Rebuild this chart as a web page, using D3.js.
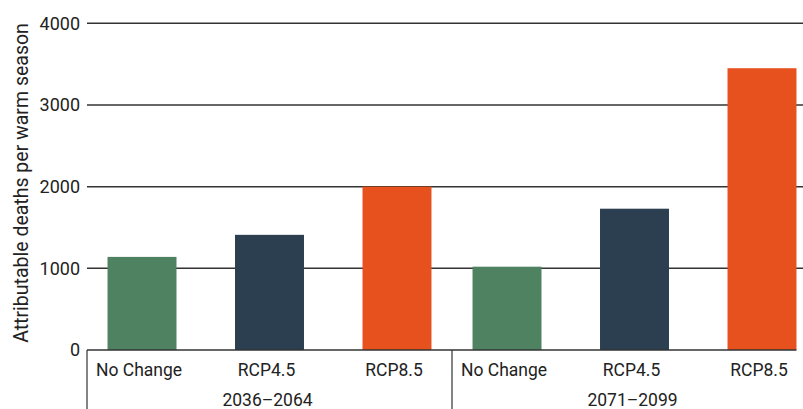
<!DOCTYPE html>
<html><head><meta charset="utf-8">
<script src="https://cdn.jsdelivr.net/npm/d3@7"></script>
<style>
html,body{margin:0;padding:0;background:#fff;}
svg{display:block;font-family:Roboto,"Noto Sans",sans-serif;}
</style></head>
<body><svg id="chart" width="803" height="409"></svg>
<script>
const periods = ["2036–2064", "2071–2099"];
const scenarios = ["No Change", "RCP4.5", "RCP8.5"];
const values2036 = [1140, 1410, 2000];
const values2071 = [1020, 1730, 3450];
const yTicks = [0, 1000, 2000, 3000, 4000];
const colors = ["#4f8260", "#2b3f51", "#e7511e"];
const yTitle = "Attributable deaths per warm season";

const seriesByPeriod = [values2036, values2071];
const svg = d3.select("#chart");
const left = 87, groupW = 365;
const y = d3.scaleLinear().domain([0, 4000]).range([350, 23.3]);
const x0 = d3.scaleBand().domain(periods).range([left, left + 2 * groupW]).padding(0);
const x1 = d3.scaleBand().domain(scenarios).range([0, groupW]).paddingInner(0.459).paddingOuter(0.161);
const textColor = "#222";

// gridlines
svg.append("g").selectAll("line").data(yTicks.filter(d => d > 0)).join("line")
  .attr("x1", left).attr("x2", 803)
  .attr("y1", d => y(d)).attr("y2", d => y(d))
  .attr("stroke", "#333").attr("stroke-width", 1.5);

// tick labels
svg.append("g").selectAll("text").data(yTicks).join("text")
  .attr("x", 80).attr("y", d => y(d)).attr("dy", "0.35em")
  .attr("text-anchor", "end").attr("font-size", 18).attr("fill", textColor)
  .text(d => d);

// bars
periods.forEach((p, i) => {
  const g = svg.append("g").attr("transform", `translate(${x0(p)},0)`);
  g.selectAll("rect").data(seriesByPeriod[i]).join("rect")
    .attr("x", (d, j) => x1(scenarios[j]))
    .attr("width", x1.bandwidth())
    .attr("y", d => y(d))
    .attr("height", d => y(0) - y(d))
    .attr("fill", (d, j) => colors[j]);
  g.selectAll("text.cat").data(scenarios).join("text")
    .attr("class", "cat")
    .attr("x", d => x1(d) + x1.bandwidth() / 2 - 3)
    .attr("y", 376)
    .attr("text-anchor", "middle").attr("font-size", 17.5).attr("fill", textColor)
    .text(d => d);
  svg.append("text")
    .attr("x", x0(p) + groupW / 2 - 2)
    .attr("y", 406)
    .attr("text-anchor", "middle").attr("font-size", 17.5).attr("fill", textColor)
    .text(p);
});

// baseline
const lastRight = x0(periods[1]) + x1(scenarios[2]) + x1.bandwidth();
svg.append("line").attr("x1", left).attr("x2", lastRight)
  .attr("y1", y(0)).attr("y2", y(0)).attr("stroke", "#333").attr("stroke-width", 1.5);

// dividers
[left, x0(periods[1])].forEach(xv => {
  svg.append("line").attr("x1", xv).attr("x2", xv).attr("y1", y(0)).attr("y2", 409)
    .attr("stroke", "#333").attr("stroke-width", 1.2);
});

// y title
svg.append("text")
  .attr("transform", `translate(28,183) rotate(-90)`)
  .attr("text-anchor", "middle").attr("font-size", 19.5).attr("fill", textColor)
  .text(yTitle);
</script></body></html>
